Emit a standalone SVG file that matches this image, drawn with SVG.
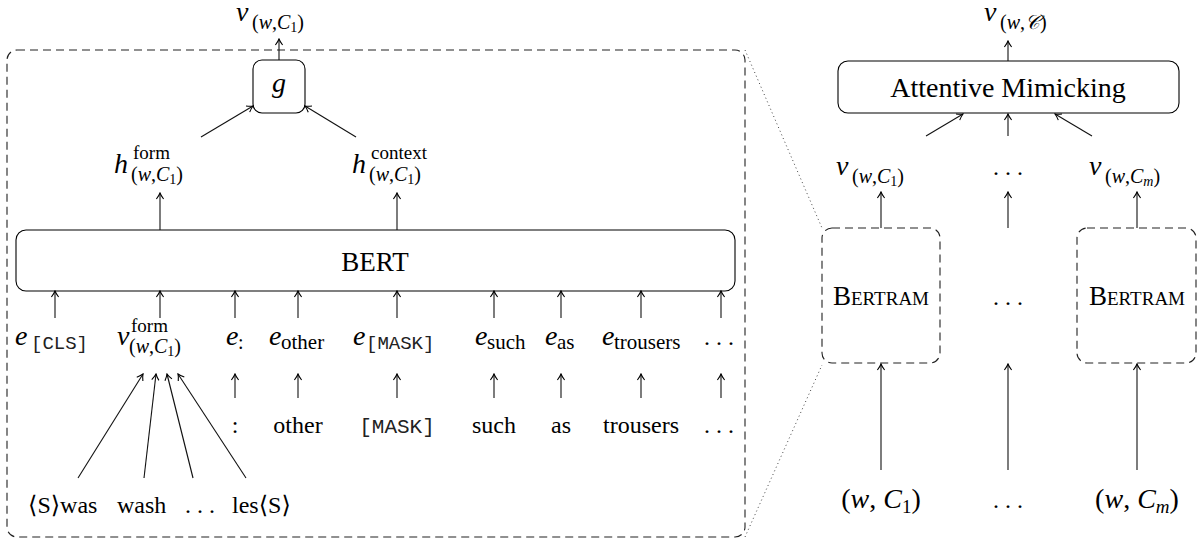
<svg xmlns="http://www.w3.org/2000/svg" width="1203" height="542" viewBox="0 0 1203 542">
<style>
.rm{font-family:"Liberation Serif","DejaVu Serif",serif;fill:#000}
.it{font-family:"Liberation Serif","DejaVu Serif",serif;font-style:italic;fill:#000}
.tt{font-family:"Liberation Mono",monospace;fill:#222}
.br{font-family:"DejaVu Serif",serif;font-style:normal}
.box{fill:none;stroke:#000;stroke-width:1.1}
.dbox{fill:none;stroke:#222;stroke-width:1.1;stroke-dasharray:8 5}
.dot{fill:none;stroke:#444;stroke-width:1;stroke-dasharray:1 3}
.arr{fill:none;stroke:#111;stroke-width:1.1;marker-end:url(#ah)}
.mid{text-anchor:middle}
</style>
<defs>
<marker id="ah" viewBox="-7 -5 8 10" refX="0" refY="0" markerWidth="8" markerHeight="10" orient="auto" markerUnits="userSpaceOnUse">
<path d="M-6,-3.6 Q-2.4,-0.9 0,0 Q-2.4,0.9 -6,3.6" fill="none" stroke="#000" stroke-width="1.1"/>
</marker>
</defs>

<g id="bertram-detail">
<rect class="dbox" x="7" y="50" width="738" height="487" rx="10"/>
</g>

<g id="g-node">
<rect class="box" x="253" y="60" width="52" height="53" rx="9"/>
<text class="it mid" x="279" y="92" font-size="28">g</text>
</g>

<g id="v-top-left">
<text class="it" x="236" y="21" font-size="28">v</text>
<text class="rm" x="252" y="29" font-size="20">(<tspan class="it">w</tspan>,<tspan class="it">C</tspan><tspan font-size="14" dy="3">1</tspan><tspan dy="-3">)</tspan></text>
</g>

<g id="h-form">
<text class="it" x="114" y="173" font-size="28">h</text>
<text class="rm" x="133" y="159" font-size="19">form</text>
<text class="rm" x="131" y="181" font-size="20">(<tspan class="it">w</tspan>,<tspan class="it">C</tspan><tspan font-size="14" dy="3">1</tspan><tspan dy="-3">)</tspan></text>
</g>

<g id="h-context">
<text class="it" x="352" y="173" font-size="28">h</text>
<text class="rm" x="371" y="159" font-size="19">context</text>
<text class="rm" x="369" y="181" font-size="20">(<tspan class="it">w</tspan>,<tspan class="it">C</tspan><tspan font-size="14" dy="3">1</tspan><tspan dy="-3">)</tspan></text>
</g>

<g id="bert">
<rect class="box" x="16" y="230" width="719" height="61" rx="10"/>
<text class="rm mid" x="375" y="271" font-size="27">BERT</text>
</g>

<g id="e-cls">
<text class="it" x="15" y="345" font-size="28">e</text>
<text class="tt" x="31" y="349" font-size="19">[CLS]</text>
</g>
<g id="v-form">
<text class="it" x="117" y="345" font-size="28">v</text>
<text class="rm" x="131" y="332" font-size="19">form</text>
<text class="rm" x="129" y="353" font-size="20">(<tspan class="it">w</tspan>,<tspan class="it">C</tspan><tspan font-size="14" dy="3">1</tspan><tspan dy="-3">)</tspan></text>
</g>
<g id="e-colon">
<text class="it" x="226" y="345" font-size="28">e</text>
<text class="rm" x="238" y="349" font-size="20">:</text>
</g>
<g id="e-other">
<text class="it" x="269" y="345" font-size="28">e</text>
<text class="rm" x="281" y="349" font-size="21">other</text>
</g>
<g id="e-mask">
<text class="it" x="353" y="345" font-size="28">e</text>
<text class="tt" x="366" y="349" font-size="19">[MASK]</text>
</g>
<g id="e-such">
<text class="it" x="475" y="345" font-size="28">e</text>
<text class="rm" x="487" y="349" font-size="21">such</text>
</g>
<g id="e-as">
<text class="it" x="545" y="345" font-size="28">e</text>
<text class="rm" x="557" y="349" font-size="21">as</text>
</g>
<g id="e-trousers">
<text class="it" x="602" y="345" font-size="28">e</text>
<text class="rm" x="614" y="349" font-size="21">trousers</text>
</g>
<g id="e-dots">
<text class="rm mid" x="719" y="345" font-size="24">. . .</text>
</g>

<g id="w-colon"><text class="rm mid" x="235" y="433" font-size="24">:</text></g>
<g id="w-other"><text class="rm mid" x="298" y="433" font-size="24">other</text></g>
<g id="w-mask"><text class="tt mid" x="397" y="433" font-size="21">[MASK]</text></g>
<g id="w-such"><text class="rm mid" x="494" y="433" font-size="24">such</text></g>
<g id="w-as"><text class="rm mid" x="561" y="433" font-size="24">as</text></g>
<g id="w-trousers"><text class="rm mid" x="641" y="433" font-size="24">trousers</text></g>
<g id="w-dots"><text class="rm mid" x="719" y="433" font-size="24">. . .</text></g>

<g id="ng-was"><text class="rm" x="28" y="513" font-size="24"><tspan class="br">⟨</tspan>S<tspan class="br">⟩</tspan>was</text></g>
<g id="ng-wash"><text class="rm" x="117" y="513" font-size="24">wash</text></g>
<g id="ng-dots"><text class="rm" x="185" y="513" font-size="24">. . .</text></g>
<g id="ng-les"><text class="rm" x="232" y="513" font-size="24">les<tspan class="br">⟨</tspan>S<tspan class="br">⟩</tspan></text></g>

<g id="v-wC">
<text class="it" x="984" y="21" font-size="28">v</text>
<text class="rm" x="1000" y="29" font-size="20">(<tspan class="it">w</tspan>,<tspan class="it">𝒞</tspan>)</text>
</g>
<g id="attentive-mimicking">
<rect class="box" x="838" y="61" width="341" height="52" rx="10"/>
<text class="rm mid" x="1008" y="97" font-size="28">Attentive Mimicking</text>
</g>
<g id="v-c1-right">
<text class="it" x="836" y="175" font-size="28">v</text>
<text class="rm" x="852" y="183" font-size="20">(<tspan class="it">w</tspan>,<tspan class="it">C</tspan><tspan font-size="14" dy="3">1</tspan><tspan dy="-3">)</tspan></text>
</g>
<g id="v-dots-right"><text class="rm mid" x="1008" y="175" font-size="24">. . .</text></g>
<g id="v-cm-right">
<text class="it" x="1089" y="175" font-size="28">v</text>
<text class="rm" x="1105" y="183" font-size="20">(<tspan class="it">w</tspan>,<tspan class="it">C</tspan><tspan class="it" font-size="14" dy="3">m</tspan><tspan dy="-3">)</tspan></text>
</g>
<g id="bertram-1">
<rect class="dbox" x="822" y="228" width="118" height="135" rx="10"/>
<text class="rm mid" x="881" y="305" font-size="27" style="font-variant:small-caps">Bertram</text>
</g>
<g id="bertram-dots"><text class="rm mid" x="1008" y="305" font-size="24">. . .</text></g>
<g id="bertram-m">
<rect class="dbox" x="1077" y="228" width="119" height="135" rx="10"/>
<text class="rm mid" x="1137" y="305" font-size="27" style="font-variant:small-caps">Bertram</text>
</g>
<g id="input-c1">
<text class="rm mid" x="881" y="508" font-size="28">(<tspan class="it">w</tspan>, <tspan class="it">C</tspan><tspan font-size="19" dy="5">1</tspan><tspan dy="-5">)</tspan></text>
</g>
<g id="input-dots"><text class="rm mid" x="1008" y="508" font-size="24">. . .</text></g>
<g id="input-cm">
<text class="rm mid" x="1137" y="508" font-size="28">(<tspan class="it">w</tspan>, <tspan class="it">C</tspan><tspan class="it" font-size="19" dy="5">m</tspan><tspan dy="-5">)</tspan></text>
</g>

<g id="connectors">
<line class="dot" x1="745" y1="50" x2="822" y2="228"/>
<line class="dot" x1="745" y1="537" x2="822" y2="365"/>
<line class="arr" x1="279" y1="60" x2="279" y2="39"/>
<line class="arr" x1="201" y1="137" x2="253" y2="106"/>
<line class="arr" x1="356" y1="137" x2="305" y2="106"/>
<line class="arr" x1="160" y1="230" x2="160" y2="193"/>
<line class="arr" x1="397" y1="230" x2="397" y2="193"/>
<line class="arr" x1="55" y1="318" x2="55" y2="291"/>
<line class="arr" x1="160" y1="318" x2="160" y2="291"/>
<line class="arr" x1="235" y1="318" x2="235" y2="291"/>
<line class="arr" x1="298" y1="318" x2="298" y2="291"/>
<line class="arr" x1="397" y1="318" x2="397" y2="291"/>
<line class="arr" x1="494" y1="318" x2="494" y2="291"/>
<line class="arr" x1="561" y1="318" x2="561" y2="291"/>
<line class="arr" x1="641" y1="318" x2="641" y2="291"/>
<line class="arr" x1="721" y1="318" x2="721" y2="291"/>
<line class="arr" x1="235" y1="398" x2="235" y2="374"/>
<line class="arr" x1="298" y1="398" x2="298" y2="374"/>
<line class="arr" x1="397" y1="398" x2="397" y2="374"/>
<line class="arr" x1="494" y1="398" x2="494" y2="374"/>
<line class="arr" x1="561" y1="398" x2="561" y2="374"/>
<line class="arr" x1="641" y1="398" x2="641" y2="374"/>
<line class="arr" x1="721" y1="398" x2="721" y2="374"/>
<line class="arr" x1="78" y1="478" x2="143" y2="374"/>
<line class="arr" x1="144" y1="478" x2="156" y2="374"/>
<line class="arr" x1="193" y1="478" x2="167" y2="374"/>
<line class="arr" x1="246" y1="478" x2="178" y2="374"/>
<line class="arr" x1="1008" y1="61" x2="1008" y2="41"/>
<line class="arr" x1="926" y1="136" x2="963" y2="114"/>
<line class="arr" x1="1008" y1="136" x2="1008" y2="114"/>
<line class="arr" x1="1092" y1="136" x2="1055" y2="114"/>
<line class="arr" x1="881" y1="228" x2="881" y2="192"/>
<line class="arr" x1="1008" y1="228" x2="1008" y2="192"/>
<line class="arr" x1="1137" y1="228" x2="1137" y2="192"/>
<line class="arr" x1="881" y1="470" x2="881" y2="364"/>
<line class="arr" x1="1008" y1="470" x2="1008" y2="364"/>
<line class="arr" x1="1137" y1="470" x2="1137" y2="364"/>
</g>
</svg>
